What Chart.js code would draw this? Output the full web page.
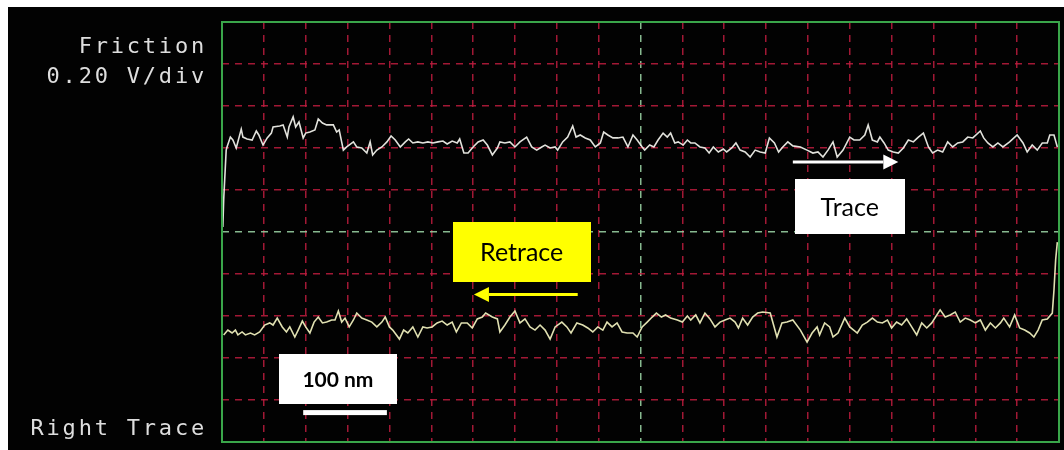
<!DOCTYPE html>
<html>
<head>
<meta charset="utf-8">
<title>Friction trace / retrace</title>
<script src="https://cdn.jsdelivr.net/npm/chart.js@4.4.1/dist/chart.umd.min.js"></script>
<style>
  html, body { margin: 0; padding: 0; background: #ffffff; }
  canvas { display: block; }
</style>
</head>
<body>
<canvas id="scope" width="1064" height="450"></canvas>
<script>
// Scan position (nm) and friction signal (V) for the forward (trace) pass
const traceNm = [
  1, 2, 5, 6, 10, 13, 17, 23, 25, 30,
  36, 41, 44, 49, 54, 59, 61, 69, 73, 78,
  80, 85, 88, 92, 97, 100, 105, 111, 115, 120,
  125, 133, 137, 140, 145, 149, 157, 161, 167, 173,
  177, 180, 185, 191, 197, 202, 207, 213, 219, 223,
  228, 234, 240, 246, 252, 258, 264, 269, 275, 281,
  284, 289, 294, 300, 306, 312, 317, 323, 329, 332,
  338, 344, 350, 356, 364, 370, 376, 382, 386, 392,
  398, 401, 407, 413, 419, 423, 428, 434, 440, 446,
  452, 456, 461, 467, 473, 479, 485, 491, 496, 502,
  505, 511, 516, 521, 527, 532, 536, 541, 545, 551,
  556, 560, 565, 571, 577, 582, 587, 593, 599, 603,
  609, 614, 619, 625, 631, 637, 643, 649, 654, 660,
  665, 670, 676, 682, 691, 699, 706, 712, 718, 724,
  730, 735, 742, 750, 755, 762, 768, 772, 777, 783,
  786, 791, 796, 802, 808, 814, 820, 826, 832, 838,
  844, 849, 855, 861, 867, 873, 879, 885, 891, 897,
  906, 910, 915, 921, 927, 933, 941, 950, 957, 962,
  968, 974, 980, 986, 989, 994, 998
];
const traceV = [
  0.024, 0.152, 0.390, 0.405, 0.452, 0.438, 0.400, 0.490, 0.452, 0.443,
  0.438, 0.481, 0.462, 0.414, 0.448, 0.471, 0.500, 0.505, 0.510, 0.452,
  0.500, 0.548, 0.500, 0.524, 0.448, 0.471, 0.476, 0.486, 0.538, 0.519,
  0.510, 0.510, 0.476, 0.486, 0.390, 0.405, 0.429, 0.405, 0.400, 0.376,
  0.429, 0.367, 0.390, 0.405, 0.429, 0.457, 0.438, 0.405, 0.429, 0.443,
  0.424, 0.429, 0.424, 0.429, 0.424, 0.429, 0.433, 0.419, 0.433, 0.424,
  0.443, 0.376, 0.376, 0.405, 0.429, 0.438, 0.414, 0.367, 0.400, 0.429,
  0.424, 0.429, 0.405, 0.429, 0.452, 0.405, 0.390, 0.405, 0.414, 0.400,
  0.405, 0.390, 0.429, 0.452, 0.505, 0.452, 0.462, 0.448, 0.438, 0.405,
  0.424, 0.476, 0.462, 0.448, 0.448, 0.452, 0.405, 0.462, 0.438, 0.405,
  0.390, 0.414, 0.405, 0.438, 0.471, 0.452, 0.471, 0.424, 0.429, 0.414,
  0.438, 0.424, 0.424, 0.405, 0.400, 0.376, 0.405, 0.381, 0.395, 0.381,
  0.400, 0.424, 0.390, 0.381, 0.357, 0.390, 0.381, 0.376, 0.448, 0.424,
  0.381, 0.405, 0.429, 0.410, 0.405, 0.390, 0.376, 0.381, 0.357, 0.390,
  0.429, 0.357, 0.390, 0.452, 0.438, 0.438, 0.462, 0.510, 0.438, 0.429,
  0.452, 0.424, 0.390, 0.381, 0.376, 0.400, 0.438, 0.429, 0.452, 0.471,
  0.405, 0.376, 0.390, 0.381, 0.429, 0.405, 0.424, 0.429, 0.452, 0.448,
  0.481, 0.448, 0.424, 0.405, 0.424, 0.405, 0.429, 0.462, 0.424, 0.381,
  0.414, 0.390, 0.424, 0.424, 0.462, 0.462, 0.405
];

// Scan position (nm) and friction signal (V) for the return (retrace) pass
const retraceNm = [
  2, 7, 12, 16, 19, 24, 28, 34, 39, 45,
  51, 57, 61, 66, 72, 77, 81, 87, 91, 96,
  100, 105, 110, 115, 120, 125, 131, 135, 139, 143,
  147, 152, 157, 161, 167, 173, 179, 185, 191, 195,
  200, 204, 212, 217, 222, 228, 234, 240, 245, 251,
  257, 263, 269, 275, 280, 286, 293, 299, 305, 311,
  315, 323, 329, 332, 338, 344, 350, 356, 362, 368,
  374, 380, 386, 392, 398, 406, 412, 417, 424, 431,
  437, 443, 449, 455, 460, 466, 472, 478, 484, 491,
  496, 502, 508, 514, 519, 525, 530, 536, 544, 550,
  556, 560, 566, 571, 577, 583, 589, 595, 601, 607,
  613, 617, 622, 628, 634, 640, 646, 655, 663, 669,
  675, 682, 691, 699, 705, 711, 714, 720, 726, 730,
  736, 744, 750, 759, 765, 771, 777, 783, 789, 795,
  800, 806, 812, 818, 824, 830, 836, 842, 848, 854,
  858, 864, 870, 876, 882, 888, 894, 900, 906, 912,
  918, 924, 930, 934, 941, 947, 953, 959, 965, 970,
  975, 980, 986, 992, 994, 996, 998
];
const retraceV = [
  -0.490, -0.467, -0.481, -0.467, -0.490, -0.476, -0.490, -0.481, -0.490, -0.476,
  -0.443, -0.433, -0.443, -0.410, -0.452, -0.476, -0.452, -0.500, -0.467, -0.424,
  -0.452, -0.481, -0.429, -0.405, -0.433, -0.429, -0.419, -0.419, -0.376, -0.429,
  -0.410, -0.452, -0.419, -0.386, -0.410, -0.419, -0.429, -0.452, -0.429, -0.405,
  -0.452, -0.467, -0.510, -0.467, -0.481, -0.452, -0.500, -0.452, -0.457, -0.452,
  -0.433, -0.424, -0.443, -0.429, -0.476, -0.433, -0.433, -0.457, -0.414, -0.405,
  -0.386, -0.405, -0.414, -0.476, -0.443, -0.405, -0.376, -0.433, -0.414, -0.452,
  -0.467, -0.443, -0.467, -0.510, -0.452, -0.429, -0.452, -0.481, -0.433, -0.443,
  -0.457, -0.476, -0.452, -0.467, -0.429, -0.452, -0.433, -0.476, -0.481, -0.481,
  -0.500, -0.452, -0.429, -0.405, -0.386, -0.405, -0.395, -0.410, -0.419, -0.429,
  -0.400, -0.419, -0.395, -0.433, -0.386, -0.414, -0.452, -0.429, -0.419, -0.410,
  -0.429, -0.457, -0.410, -0.443, -0.405, -0.386, -0.381, -0.386, -0.500, -0.433,
  -0.429, -0.419, -0.467, -0.524, -0.481, -0.452, -0.490, -0.433, -0.452, -0.500,
  -0.481, -0.410, -0.452, -0.481, -0.443, -0.429, -0.410, -0.429, -0.433, -0.419,
  -0.457, -0.429, -0.443, -0.414, -0.452, -0.490, -0.433, -0.457, -0.433, -0.395,
  -0.371, -0.405, -0.395, -0.381, -0.429, -0.410, -0.419, -0.433, -0.419, -0.467,
  -0.433, -0.457, -0.433, -0.410, -0.452, -0.395, -0.457, -0.467, -0.481, -0.500,
  -0.467, -0.419, -0.414, -0.386, -0.276, -0.133, -0.048
];

// Screen divisions: 50 nm per horizontal division, 0.20 V per vertical division
const xRangeNm = [0, 1000];
const xStepNm = 50;
const yRangeV = [-1.0, 1.0];
const yStepV = 0.2;

// Scope labels
const channelLabels = ['Friction', '0.20 V/div'];
const modeLabel = 'Right Trace';
const traceLabel = 'Trace';
const retraceLabel = 'Retrace';
const scaleLabel = '100 nm';
const scaleLengthNm = 100;

// Annotation anchors, in data units
const notes = {
  traceArrow:   { from: 682, to: 808, v: 0.333 },
  traceBox:     { nm: 750, v: 0.121, w: 110, h: 55 },
  retraceBox:   { nm: 358, v: -0.095, w: 138, h: 60 },
  retraceArrow: { from: 425, to: 301, v: -0.298 },
  scaleBox:     { nm: 138.5, v: -0.700, w: 118, h: 50 },
  scaleBar:     { start: 97, v: -0.860 }
};

const toPoints = (xs, ys) => xs.map((x, i) => ({ x: x, y: ys[i] }));

const RED_GRID = 'rgba(190, 28, 62, 0.85)';
const GREEN_GRID = 'rgba(150, 205, 160, 0.9)';

function gridColor(center, lo, hi) {
  return (ctx) => {
    const v = ctx.tick ? ctx.tick.value : NaN;
    if (Math.abs(v - lo) < 1e-6 || Math.abs(v - hi) < 1e-6) return 'rgba(0,0,0,0)';
    if (Math.abs(v - center) < 1e-6) return GREEN_GRID;
    return RED_GRID;
  };
}

function arrow(ctx, x1, x2, y, color) {
  const dir = Math.sign(x2 - x1);
  const head = 15;
  ctx.save();
  ctx.strokeStyle = color;
  ctx.fillStyle = color;
  ctx.lineWidth = 3;
  ctx.beginPath();
  ctx.moveTo(x1, y);
  ctx.lineTo(x2 - dir * head, y);
  ctx.stroke();
  ctx.beginPath();
  ctx.moveTo(x2, y);
  ctx.lineTo(x2 - dir * head, y - 7.5);
  ctx.lineTo(x2 - dir * head, y + 7.5);
  ctx.closePath();
  ctx.fill();
  ctx.restore();
}

function labelBox(ctx, cx, cy, w, h, fill, text, font) {
  ctx.save();
  ctx.fillStyle = fill;
  ctx.fillRect(Math.round(cx - w / 2), Math.round(cy - h / 2), w, h);
  ctx.fillStyle = '#000000';
  ctx.font = font;
  ctx.textAlign = 'center';
  ctx.textBaseline = 'middle';
  ctx.fillText(text, cx, cy + 1);
  ctx.restore();
}

const scopeFrame = {
  id: 'scopeFrame',
  beforeDraw(chart) {
    const ctx = chart.ctx;
    ctx.save();
    ctx.fillStyle = '#ffffff';
    ctx.fillRect(0, 0, chart.width, chart.height);
    ctx.fillStyle = '#020202';
    ctx.fillRect(8, 7, chart.width - 8, chart.height - 7);
    ctx.restore();
  },
  afterDraw(chart) {
    const ctx = chart.ctx;
    const a = chart.chartArea;
    const xs = chart.scales.x;
    const ys = chart.scales.y;

    // screen frame
    ctx.save();
    ctx.strokeStyle = '#3aa64a';
    ctx.lineWidth = 2;
    ctx.strokeRect(a.left, a.top, a.right - a.left, a.bottom - a.top);
    ctx.restore();

    // channel and mode labels
    ctx.save();
    ctx.fillStyle = '#dedede';
    ctx.font = '22px "DejaVu Sans Mono", monospace';
    ctx.letterSpacing = '2.8px';
    ctx.textAlign = 'right';
    ctx.textBaseline = 'alphabetic';
    const rx = a.left - 15;
    ctx.fillText(channelLabels[0], rx, 53);
    ctx.fillText(channelLabels[1], rx, 83);
    ctx.fillText(modeLabel, rx, 435);
    ctx.restore();

    // trace annotation
    const ta = notes.traceArrow;
    arrow(ctx, xs.getPixelForValue(ta.from), xs.getPixelForValue(ta.to), ys.getPixelForValue(ta.v), '#ffffff');
    const tb = notes.traceBox;
    labelBox(ctx, xs.getPixelForValue(tb.nm), ys.getPixelForValue(tb.v), tb.w, tb.h, '#ffffff', traceLabel, '25px Lato, "Open Sans", sans-serif');

    // retrace annotation
    const rb = notes.retraceBox;
    labelBox(ctx, xs.getPixelForValue(rb.nm), ys.getPixelForValue(rb.v), rb.w, rb.h, '#ffff00', retraceLabel, '25px Lato, "Open Sans", sans-serif');
    const ra = notes.retraceArrow;
    arrow(ctx, xs.getPixelForValue(ra.from), xs.getPixelForValue(ra.to), ys.getPixelForValue(ra.v), '#ffff00');

    // scale bar
    const sb = notes.scaleBox;
    labelBox(ctx, xs.getPixelForValue(sb.nm), ys.getPixelForValue(sb.v), sb.w, sb.h, '#ffffff', scaleLabel, 'bold 21px Lato, "Open Sans", sans-serif');
    const bar = notes.scaleBar;
    const bx1 = xs.getPixelForValue(bar.start);
    const bx2 = xs.getPixelForValue(bar.start + scaleLengthNm);
    const by = ys.getPixelForValue(bar.v);
    ctx.save();
    ctx.fillStyle = '#ffffff';
    ctx.fillRect(bx1, by - 2.5, bx2 - bx1, 5);
    ctx.restore();
  }
};

new Chart(document.getElementById('scope'), {
  type: 'line',
  data: {
    datasets: [
      {
        label: traceLabel,
        data: toPoints(traceNm, traceV),
        borderColor: 'rgba(238, 238, 232, 0.95)',
        borderWidth: 1.6,
        pointRadius: 0,
        tension: 0,
        fill: false
      },
      {
        label: retraceLabel,
        data: toPoints(retraceNm, retraceV),
        borderColor: 'rgba(236, 236, 186, 0.95)',
        borderWidth: 1.6,
        pointRadius: 0,
        tension: 0,
        fill: false
      }
    ]
  },
  options: {
    responsive: false,
    animation: false,
    events: [],
    layout: { padding: { left: 222, top: 22, right: 5, bottom: 8 } },
    plugins: {
      legend: { display: false },
      tooltip: { enabled: false },
      title: { display: false }
    },
    scales: {
      x: {
        type: 'linear',
        min: xRangeNm[0],
        max: xRangeNm[1],
        ticks: { display: false, stepSize: xStepNm },
        grid: {
          drawTicks: false,
          lineWidth: 1.5,
          color: gridColor((xRangeNm[0] + xRangeNm[1]) / 2, xRangeNm[0], xRangeNm[1])
        },
        border: { display: false, dash: [7, 6] }
      },
      y: {
        type: 'linear',
        min: yRangeV[0],
        max: yRangeV[1],
        ticks: { display: false, stepSize: yStepV },
        grid: {
          drawTicks: false,
          lineWidth: 1.5,
          color: gridColor(0, yRangeV[0], yRangeV[1])
        },
        border: { display: false, dash: [7, 6] }
      }
    }
  },
  plugins: [scopeFrame]
});
</script>
</body>
</html>
